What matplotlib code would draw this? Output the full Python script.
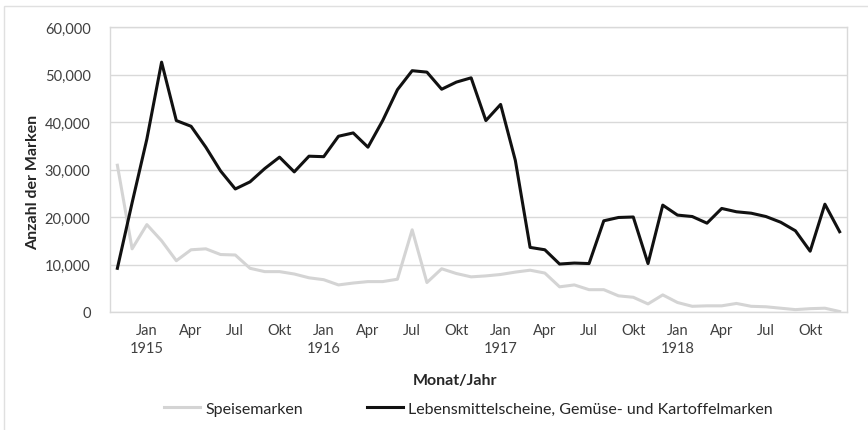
import matplotlib
matplotlib.use("Agg")
from matplotlib import pyplot as plt
import matplotlib.patches as patches

# Monthly values, Nov 1914 - Dec 1918
months = ["Nov", "Dez", "Jan", "Feb", "Mär", "Apr", "Mai", "Jun", "Jul", "Aug", "Sep", "Okt"] * 5
months = months[:50]
years = [1914] * 2 + [1915] * 12 + [1916] * 12 + [1917] * 12 + [1918] * 12

speisemarken = [
    30900, 13300, 18400, 15000, 10800, 13100, 13300, 12100, 12000, 9200,
    8500, 8500, 8000, 7200, 6800, 5700, 6100, 6400, 6400, 6900,
    17300, 6200, 9100, 8100, 7400, 7600, 7900, 8400, 8800, 8200,
    5300, 5700, 4700, 4700, 3400, 3100, 1700, 3600, 2000, 1200,
    1300, 1300, 1800, 1200, 1100, 800, 500, 700, 800, 100,
]
lebensmittel = [
    9200, 23000, 36400, 52600, 40300, 39100, 34700, 29700, 25900, 27400,
    30200, 32600, 29500, 32800, 32700, 37000, 37700, 34700, 40300, 46800,
    50800, 50500, 46900, 48400, 49300, 40300, 43700, 31900, 13600, 13100,
    10100, 10300, 10200, 19200, 19900, 20000, 10200, 22500, 20400, 20100,
    18700, 21800, 21100, 20800, 20100, 18900, 17100, 12800, 22700, 16900,
]

tick_pos = [i for i, m in enumerate(months) if m in ("Jan", "Apr", "Jul", "Okt")]
tick_labels = [months[i] + ("\n" + str(years[i]) if months[i] == "Jan" else "") for i in tick_pos]

plt.rcParams["font.family"] = ["Lato", "DejaVu Sans"]

fig = plt.figure(figsize=(8.68, 4.31), dpi=100)
# light chart border
fig.patches.append(patches.Rectangle((4 / 868, -0.1), 1.2, 0.1 + (431 - 7) / 431,
                                     transform=fig.transFigure, fill=False,
                                     edgecolor="#e0e0e0", linewidth=1))

ax = fig.add_axes([110 / 868, (431 - 313) / 431, 737 / 868, 285 / 431])
x = list(range(len(months)))
ax.plot(x, speisemarken, color="#d4d4d4", linewidth=2.2, label="Speisemarken", zorder=3)
ax.plot(x, lebensmittel, color="#111111", linewidth=2.2,
        label="Lebensmittelscheine, Gemüse- und Kartoffelmarken", zorder=4)

ax.set_xlim(-0.5, len(months) - 0.5)
ax.set_ylim(0, 60000)
ax.set_yticks(range(0, 60001, 10000))
ax.set_yticklabels([f"{v:,}" for v in range(0, 60001, 10000)])
ax.set_xticks(tick_pos)
ax.set_xticklabels(tick_labels, linespacing=1.35)
ax.tick_params(length=0, labelsize=10.5, colors="#404040", pad=8)
ax.tick_params(axis="y", pad=14)
ax.grid(axis="y", color="#d9d9d9", linewidth=1)
ax.set_axisbelow(True)
for s in ax.spines.values():
    s.set_color("#d9d9d9")
    s.set_linewidth(1)

ax.set_ylabel("Anzahl der Marken", fontsize=11.5, fontweight="bold", color="#262626")
ax.yaxis.set_label_coords(-0.095, 0.458)
ax.set_xlabel("Monat/Jahr", fontsize=11.5, fontweight="bold", color="#262626")
ax.xaxis.set_label_coords(0.468, -0.214)

ax.legend(loc="center", bbox_to_anchor=(0.486, -0.34), ncol=2, frameon=False,
          fontsize=11.5, handlelength=2.3, handletextpad=0.3, columnspacing=4.0,
          labelcolor="#262626")

fig.savefig("out.png", dpi=100)
